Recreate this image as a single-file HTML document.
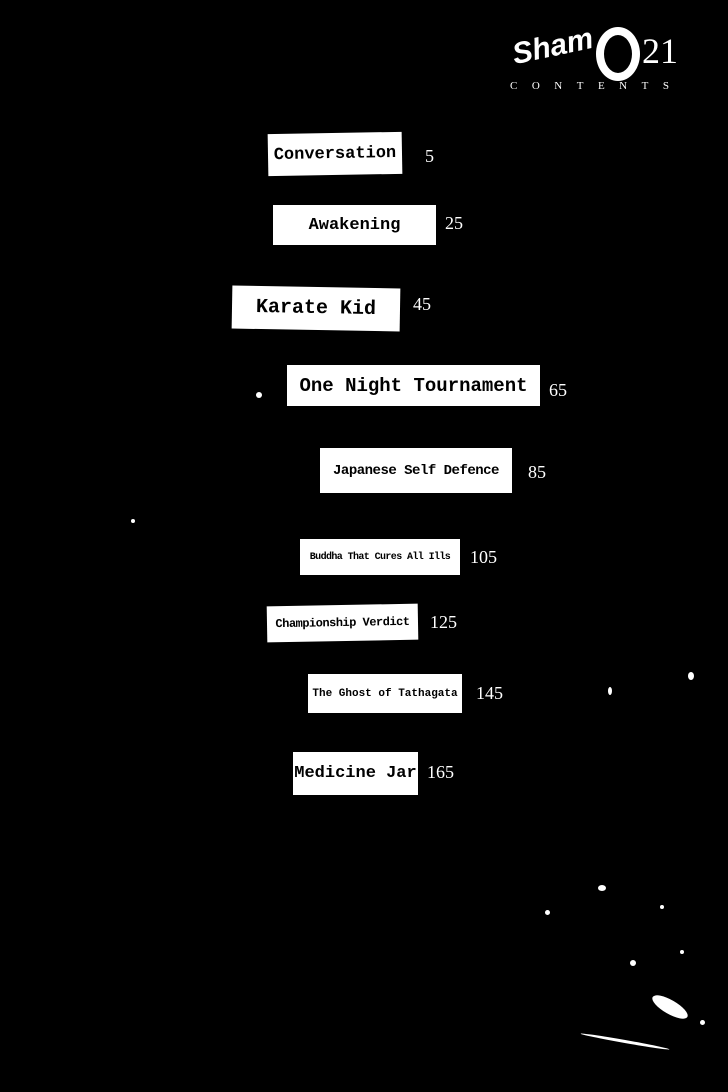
<!DOCTYPE html>
<html><head><meta charset="utf-8"><style>
body{margin:0;background:#000;}
#p{position:relative;width:728px;height:1092px;background:#000;overflow:hidden;font-family:"Liberation Serif",serif;}
.b{position:absolute;background:#fff;color:#000;font-family:"Liberation Mono",monospace;font-weight:bold;display:flex;align-items:center;justify-content:center;white-space:nowrap;overflow:hidden;}
.n{position:absolute;color:#fff;font-size:18px;}
.d{position:absolute;background:#fff;border-radius:50%;}
</style></head><body><div id="p">
<div style="position:absolute;left:512px;top:30px;color:#fff;font-family:'Liberation Sans',sans-serif;font-weight:bold;font-style:italic;font-size:30px;transform:rotate(-12deg)">Sham</div>
<div style="position:absolute;left:596px;top:27px;width:28px;height:38px;border:8px solid #fff;border-radius:50%"></div>
<div style="position:absolute;left:642px;top:30px;color:#fff;font-size:36px">21</div>
<div style="position:absolute;left:510px;top:80px;color:#fff;font-size:11px;letter-spacing:14.5px">CONTENTS</div>

<div class="b" style="left:268px;top:133px;width:134px;height:42px;font-size:17px;transform:rotate(-1deg)">Conversation</div><div class="n" style="left:425px;top:146px">5</div>
<div class="b" style="left:273px;top:205px;width:163px;height:40px;font-size:17px">Awakening</div><div class="n" style="left:445px;top:213px">25</div>
<div class="b" style="left:232px;top:287px;width:168px;height:43px;font-size:20px;transform:rotate(1deg)">Karate Kid</div><div class="n" style="left:413px;top:294px">45</div>
<div class="b" style="left:287px;top:365px;width:253px;height:41px;font-size:19px">One Night Tournament</div><div class="n" style="left:549px;top:380px">65</div>
<div class="b" style="left:320px;top:448px;width:192px;height:45px;font-size:14px;letter-spacing:-0.5px">Japanese Self Defence</div><div class="n" style="left:528px;top:462px">85</div>
<div class="b" style="left:300px;top:539px;width:160px;height:36px;font-size:10px;letter-spacing:-0.6px">Buddha That Cures All Ills</div><div class="n" style="left:470px;top:547px">105</div>
<div class="b" style="left:267px;top:605px;width:151px;height:36px;font-size:12px;letter-spacing:-0.5px;transform:rotate(-1deg)">Championship Verdict</div><div class="n" style="left:430px;top:612px">125</div>
<div class="b" style="left:308px;top:674px;width:154px;height:39px;font-size:11px">The Ghost of Tathagata</div><div class="n" style="left:476px;top:683px">145</div>
<div class="b" style="left:293px;top:752px;width:125px;height:43px;font-size:17px">Medicine Jar</div><div class="n" style="left:427px;top:762px">165</div>

<div class="d" style="left:256px;top:392px;width:6px;height:6px"></div>
<div class="d" style="left:131px;top:519px;width:4px;height:4px"></div>
<div class="d" style="left:688px;top:672px;width:6px;height:8px"></div>
<div class="d" style="left:608px;top:687px;width:4px;height:8px"></div>
<div class="d" style="left:598px;top:885px;width:8px;height:6px"></div>
<div class="d" style="left:630px;top:960px;width:6px;height:6px"></div>
<div class="d" style="left:660px;top:905px;width:4px;height:4px"></div>
<div class="d" style="left:700px;top:1020px;width:5px;height:5px"></div>
<div class="d" style="left:650px;top:1000px;width:40px;height:14px;transform:rotate(30deg)"></div>
<div class="d" style="left:580px;top:1040px;width:90px;height:3px;transform:rotate(10deg)"></div>
<div class="d" style="left:545px;top:910px;width:5px;height:5px"></div>
<div class="d" style="left:680px;top:950px;width:4px;height:4px"></div>
</div></body></html>
